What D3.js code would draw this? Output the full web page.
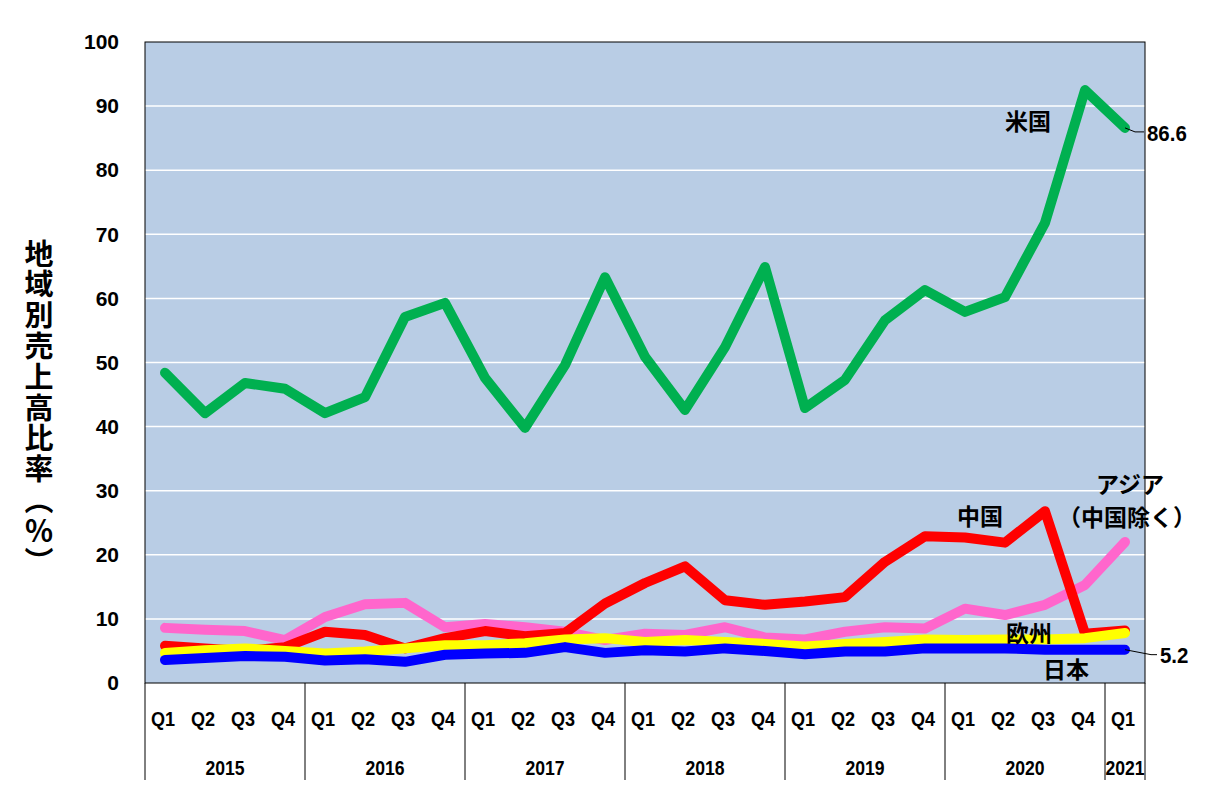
<!DOCTYPE html>
<html><head><meta charset="utf-8">
<script src="https://cdn.jsdelivr.net/npm/d3@7"></script>
<style>body{margin:0;background:#fff}svg{display:block}</style>
</head><body>
<svg id="c" width="1217" height="804"></svg>
<script>
const years = ["2015","2016","2017","2018","2019","2020","2021"];
const quarters = ["Q1","Q2","Q3","Q4"];
const periods = [];
years.forEach(y => quarters.forEach(q => { if (!(y === "2021" && q !== "Q1")) periods.push(y + q); }));
const yTicks = [0,10,20,30,40,50,60,70,80,90,100];
const yTitle = "地域別売上高比率︵％︶";

const usa =    [48.4,42.1,46.8,45.9, 42.1,44.6,57.1,59.3, 47.6,39.8,49.6,63.3, 50.9,42.6,52.4,64.9, 42.9,47.3,56.6,61.3, 57.9,60.2,71.8,92.5, 86.6];
const asia =   [8.6,8.3,8.1,6.7, 10.3,12.3,12.5,8.7, 9.2,8.7,8.0,6.7, 7.7,7.5,8.7,7.1, 6.8,8.0,8.7,8.5, 11.6,10.6,12.2,15.3, 22.0];
const china =  [5.8,5.4,5.0,5.6, 8.0,7.5,5.4,7.0, 8.1,7.3,7.8,12.4, 15.6,18.2,12.9,12.2, 12.7,13.4,18.9,22.9, 22.7,21.9,26.8,7.7, 8.2];
const europe = [4.7,5.1,5.4,5.0, 4.6,4.9,5.4,5.9, 5.9,6.2,6.8,7.0, 6.4,6.7,6.4,6.1, 5.7,6.1,6.4,6.8, 6.7,6.8,6.8,7.0, 7.8];
const japan =  [3.6,3.9,4.2,4.1, 3.5,3.7,3.3,4.4, 4.6,4.7,5.6,4.7, 5.1,4.9,5.4,5.0, 4.5,4.9,4.9,5.4, 5.4,5.4,5.2,5.2, 5.2];

const seriesList = [
  {name:"米国", values:usa, color:"#00B050"},
  {name:"アジア", values:asia, color:"#FF66CC"},
  {name:"中国", values:china, color:"#FF0000"},
  {name:"欧州", values:europe, color:"#FFFF00"},
  {name:"日本", values:japan, color:"#0000FF"}
];

const svg = d3.select("#c");
const L = 145, R = 1145, T = 42, B = 683;
const x = d3.scaleBand().domain(periods).range([L, R]);
const y = d3.scaleLinear().domain([0, 100]).range([B, T]);
const numFont = "'Liberation Sans', Arial, sans-serif";
const jpFont = "'Noto Sans CJK JP', sans-serif";

svg.append("rect").attr("x", L).attr("y", T).attr("width", R - L).attr("height", B - T).attr("fill", "#B9CDE5");

// gridlines
svg.append("g").selectAll("line").data(yTicks.filter(d => d > 0 && d < 100)).join("line")
  .attr("x1", L).attr("x2", R).attr("y1", d => y(d)).attr("y2", d => y(d))
  .attr("stroke", "#fff").attr("stroke-width", 1.5);

// y axis labels
const yAxis = d3.axisLeft(y).tickValues(yTicks).tickSize(0).tickPadding(26);
const yg = svg.append("g").attr("transform", `translate(${L},0)`).call(yAxis);
yg.select(".domain").remove();
yg.selectAll("text").attr("font-family", numFont).attr("font-weight", "bold").attr("font-size", 21).attr("fill", "#000");

// lines
const line = d3.line().x((d, i) => x(periods[i]) + x.bandwidth() / 2).y(d => y(d));
seriesList.forEach(s => {
  svg.append("path").datum(s.values).attr("d", line).attr("fill", "none")
    .attr("stroke", s.color).attr("stroke-width", 10).attr("stroke-linejoin", "round").attr("stroke-linecap", "round");
});

// frame
svg.append("rect").attr("x", L).attr("y", T).attr("width", R - L).attr("height", B - T).attr("fill", "none").attr("stroke", "#000").attr("stroke-width", 1);

// narrow text helper
const narrow = (g, t, xx, yy, size, sx) => g.append("text")
  .attr("transform", `translate(${xx},${yy}) scale(${sx},1)`)
  .attr("text-anchor", "middle").attr("font-family", numFont).attr("font-weight", "bold").attr("font-size", size).text(t);

// x axis quarter labels
const qg = svg.append("g");
periods.forEach(p => narrow(qg, p.slice(4), x(p) + x.bandwidth() / 2 - 2, 726, 21, 0.86));

// year separators and labels
const sepX = years.map(yr => x(yr + "Q1")).concat([R]);
svg.append("g").selectAll("line").data(sepX).join("line")
  .attr("x1", d => d).attr("x2", d => d).attr("y1", B).attr("y2", 780)
  .attr("stroke", "#000").attr("stroke-width", 1);
const yrg = svg.append("g");
years.forEach((yr, i) => narrow(yrg, yr, (sepX[i] + sepX[i + 1]) / 2, 775, 21, 0.84));

// y title (vertical)
svg.append("text").attr("x", 39).attr("y", 239)
  .attr("font-family", jpFont).attr("font-weight", "bold").attr("font-size", 29)
  .attr("letter-spacing", 1.8)
  .style("writing-mode", "vertical-rl").style("text-orientation", "upright")
  .text(yTitle);

// series labels
const lab = (t, xx, yy) => svg.append("text").attr("x", xx).attr("y", yy)
  .attr("font-family", jpFont).attr("font-weight", "bold").attr("font-size", 23).text(t);
lab("米国", 1005, 130);
lab("中国", 957, 525);
lab("アジア", 1096, 493);
lab("（中国除く）", 1058, 526);
lab("欧州", 1006, 642);
lab("日本", 1043, 678);

// value labels with leaders
const lastI = periods.length - 1;
const px = x(periods[lastI]) + x.bandwidth() / 2;
svg.append("path").attr("d", `M${px},${y(usa[lastI])} L${px + 10},${y(usa[lastI]) + 4} L${px + 19},${y(usa[lastI]) + 4}`)
  .attr("fill", "none").attr("stroke", "#000").attr("stroke-width", 1);
svg.append("text").attr("x", 1147).attr("y", 141).attr("font-family", numFont).attr("font-weight", "bold").attr("font-size", 22)
  .attr("transform", "translate(1147,0) scale(0.93,1) translate(-1147,0)").text(usa[lastI].toFixed(1));
svg.append("path").attr("d", `M${px},${y(japan[lastI])} L${px + 26},${y(japan[lastI]) + 5} L${px + 32},${y(japan[lastI]) + 5}`)
  .attr("fill", "none").attr("stroke", "#000").attr("stroke-width", 1);
svg.append("text").attr("x", 1160).attr("y", 663).attr("font-family", numFont).attr("font-weight", "bold").attr("font-size", 22)
  .attr("transform", "translate(1160,0) scale(0.93,1) translate(-1160,0)").text(japan[lastI].toFixed(1));
</script>
</body></html>
